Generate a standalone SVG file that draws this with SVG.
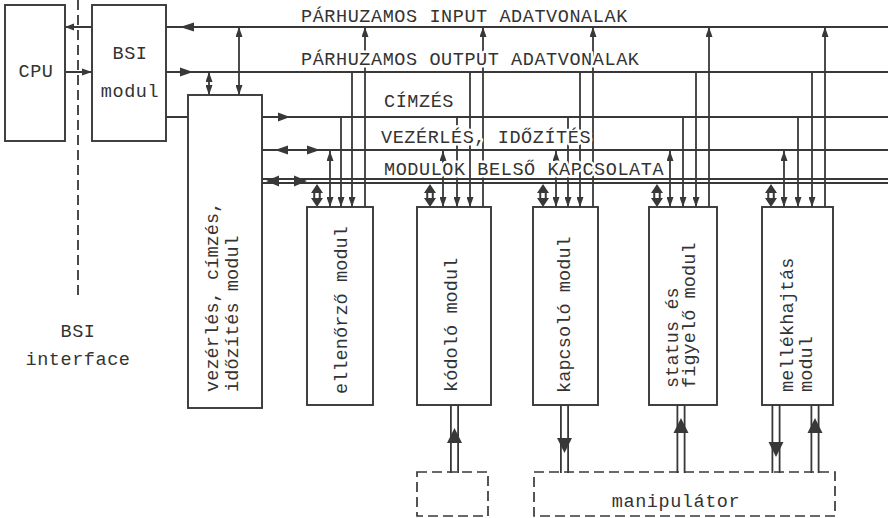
<svg xmlns="http://www.w3.org/2000/svg" width="890" height="518" viewBox="0 0 890 518">
<defs>
<style>
.ln{stroke:#383838;stroke-width:1.8;fill:none}
.bx{fill:none;stroke:#383838;stroke-width:1.9}
.ds{fill:none;stroke:#383838;stroke-width:1.7;stroke-dasharray:10 5}
.ah{fill:#383838;stroke:none}
.t{font-family:"Liberation Mono","DejaVu Sans Mono",monospace;font-size:18.5px;fill:#333;letter-spacing:0.57px}
.r{letter-spacing:0.1px}
.h{stroke:#fff;stroke-width:5px;paint-order:stroke;stroke-linejoin:round}
.dk{stroke:#383838;stroke-width:9;fill:none}
.wt{stroke:#fff;stroke-width:5.4;fill:none}
.dk2{stroke:#383838;stroke-width:7.5;fill:none}
.wt2{stroke:#fff;stroke-width:3.5;fill:none}
</style>
<marker id="a" viewBox="0 0 10 7" refX="10" refY="3.5" markerWidth="10" markerHeight="7" markerUnits="userSpaceOnUse" orient="auto-start-reverse">
<path d="M0,0 L10,3.5 L0,7 z" fill="#383838"/>
</marker>
</defs>
<rect width="890" height="518" fill="#fff"/>

<!-- bus lines and connectors -->
<g id="connectors">
<!-- BSI interface dashed line -->
<path class="ln" d="M78,0 V298" stroke-dasharray="10 5"/>
<!-- CPU <-> BSI -->
<path class="ln" d="M66,27 H92 M66,72 H92"/>
<path class="ah" d="M65,27 L74,23.5 L74,30.5 z"/>
<path class="ah" d="M92,72 L82,68.5 L82,75.5 z"/>
<!-- buses -->
<path class="ln" d="M166,27 H888"/>
<path class="ln" d="M166,72 H888"/>
<path class="ln" d="M262,117 H888 M166,117 H188"/>
<path class="ln" d="M262,150 H888"/>
<path class="ln" d="M262,179 H888 M262,183 H888"/>
<!-- bus arrowheads -->
<path class="ah" d="M180,27 L194,22.5 L194,31.5 z"/>
<path class="ah" d="M193,72 L180,67.5 L180,76.5 z"/>
<path class="ah" d="M290,117 L278,112.5 L278,121.5 z"/>
<path class="ah" d="M275,150 L288,145.5 L288,154.5 z"/>
<path class="ah" d="M320,150 L307,145.5 L307,154.5 z"/>
<path class="ah" d="M266,181 L279,175.5 L279,186.5 z"/>
<path class="ah" d="M307,181 L294,175.5 L294,186.5 z"/>
<!-- vez module to buses -->
<path class="ln" d="M239,27 V95" marker-start="url(#a)" marker-end="url(#a)"/>
<path class="ln" d="M209,72 V95" marker-start="url(#a)" marker-end="url(#a)"/>

<!-- ellenőrző -->
<path class="ln" d="M330,151 V207" marker-start="url(#a)" marker-end="url(#a)"/>
<path class="ln" d="M341,117 V207" marker-end="url(#a)"/>
<path class="ln" d="M352,72 V207" marker-end="url(#a)"/>
<path class="ln" d="M365,207 V27" marker-end="url(#a)"/>
<!-- kódoló -->
<path class="ln" d="M443,151 V207" marker-start="url(#a)" marker-end="url(#a)"/>
<path class="ln" d="M457,117 V207" marker-end="url(#a)"/>
<path class="ln" d="M470,72 V207" marker-end="url(#a)"/>
<path class="ln" d="M483,207 V27" marker-end="url(#a)"/>
<!-- kapcsoló -->
<path class="ln" d="M556,151 V207" marker-start="url(#a)" marker-end="url(#a)"/>
<path class="ln" d="M568,117 V207" marker-end="url(#a)"/>
<path class="ln" d="M580,72 V207" marker-end="url(#a)"/>
<path class="ln" d="M593,207 V27" marker-end="url(#a)"/>
<!-- status -->
<path class="ln" d="M670,151 V207" marker-start="url(#a)" marker-end="url(#a)"/>
<path class="ln" d="M683,117 V207" marker-end="url(#a)"/>
<path class="ln" d="M696,72 V207" marker-end="url(#a)"/>
<path class="ln" d="M709,207 V27" marker-end="url(#a)"/>
<!-- mellékhajtás -->
<path class="ln" d="M784,151 V207" marker-start="url(#a)" marker-end="url(#a)"/>
<path class="ln" d="M798,117 V207" marker-end="url(#a)"/>
<path class="ln" d="M812,72 V207" marker-end="url(#a)"/>
<path class="ln" d="M825,207 V27" marker-end="url(#a)"/>

<!-- thick double arrows module <-> MODULOK bus -->
<g>
<path class="dk2" d="M317,191 V200 M430,191 V200 M543,191 V200 M657,191 V200 M771,191 V200"/>
<path class="wt2" d="M317,190 V201 M430,190 V201 M543,190 V201 M657,190 V201 M771,190 V201"/>
<path class="ah" d="M317,184 L323,193 L311,193 z M317,207 L323,198 L311,198 z"/>
<path class="ah" d="M430,184 L436,193 L424,193 z M430,207 L436,198 L424,198 z"/>
<path class="ah" d="M543,184 L549,193 L537,193 z M543,207 L549,198 L537,198 z"/>
<path class="ah" d="M657,184 L663,193 L651,193 z M657,207 L663,198 L651,198 z"/>
<path class="ah" d="M771,184 L777,193 L765,193 z M771,207 L777,198 L765,198 z"/>
</g>

<!-- bottom double connectors -->
<path class="dk" d="M454.5,405 V473 M564.5,405 V473 M681,405 V473 M776,405 V473 M815,405 V473"/>
<path class="wt" d="M454.5,406 V474 M564.5,406 V474 M681,406 V474 M776,406 V474 M815,406 V474"/>
<path class="ah" d="M454.5,428 L462,443 L447,443 z"/>
<path class="ah" d="M564.5,453 L572,438 L557,438 z"/>
<path class="ah" d="M681,418 L688.5,433 L673.5,433 z"/>
<path class="ah" d="M776,457 L783.5,442 L768.5,442 z"/>
<path class="ah" d="M815,418 L822.5,433 L807.5,433 z"/>
</g>

<!-- bus labels -->
<g id="bus-labels" class="t">
<text class="h" x="301" y="22">PÁRHUZAMOS INPUT ADATVONALAK</text>
<text class="h" x="301" y="65">PÁRHUZAMOS OUTPUT ADATVONALAK</text>
<text class="h" x="384" y="107">CÍMZÉS</text>
<text class="h" x="381" y="143">VEZÉRLÉS, IDŐZÍTÉS</text>
<text class="h" x="384" y="175">MODULOK BELSŐ KAPCSOLATA</text>
</g>

<g id="cpu">
<rect class="bx" x="5" y="5" width="60" height="136" fill="#fff"/>
<text class="t" x="36" y="77" text-anchor="middle">CPU</text>
</g>

<g id="bsi-modul">
<rect class="bx" x="92" y="5" width="74" height="136"/>
<text class="t" x="130" y="59" text-anchor="middle">BSI</text>
<text class="t" x="130" y="97" text-anchor="middle">modul</text>
</g>

<g id="bsi-interface">
<text class="t" x="78" y="337" text-anchor="middle">BSI</text>
<text class="t" x="78" y="365" text-anchor="middle">interface</text>
</g>

<g id="vezerles-modul">
<rect class="bx" x="188" y="95" width="74" height="313"/>
<text class="t r" transform="translate(218,392) rotate(-90)">vezérlés, címzés,</text>
<text class="t r" transform="translate(238,392) rotate(-90)">időzítés modul</text>
</g>

<g id="ellenorzo-modul">
<rect class="bx" x="307" y="207" width="66" height="198"/>
<text class="t r" transform="translate(347,394) rotate(-90)">ellenőrző modul</text>
</g>

<g id="kodolo-modul">
<rect class="bx" x="417" y="207" width="74" height="198"/>
<text class="t r" transform="translate(457,392) rotate(-90)">kódoló modul</text>
</g>

<g id="kapcsolo-modul">
<rect class="bx" x="533" y="207" width="65" height="198"/>
<text class="t r" transform="translate(570,393) rotate(-90)">kapcsoló modul</text>
</g>

<g id="status-modul">
<rect class="bx" x="649" y="207" width="68" height="198"/>
<text class="t r" transform="translate(678,388) rotate(-90)">status és</text>
<text class="t r" transform="translate(695,388) rotate(-90)">figyelő modul</text>
</g>

<g id="mellekhajtas-modul">
<rect class="bx" x="762" y="207" width="71" height="198"/>
<text class="t r" transform="translate(793,392) rotate(-90)">mellékhajtás</text>
<text class="t r" transform="translate(812,392) rotate(-90)">modul</text>
</g>

<g id="kodolo-periferia">
<rect class="ds" x="417" y="472" width="71" height="44"/>
</g>

<g id="manipulator">
<rect class="ds" x="534" y="472" width="301" height="44"/>
<text class="t" x="676" y="507" text-anchor="middle">manipulátor</text>
</g>
</svg>
